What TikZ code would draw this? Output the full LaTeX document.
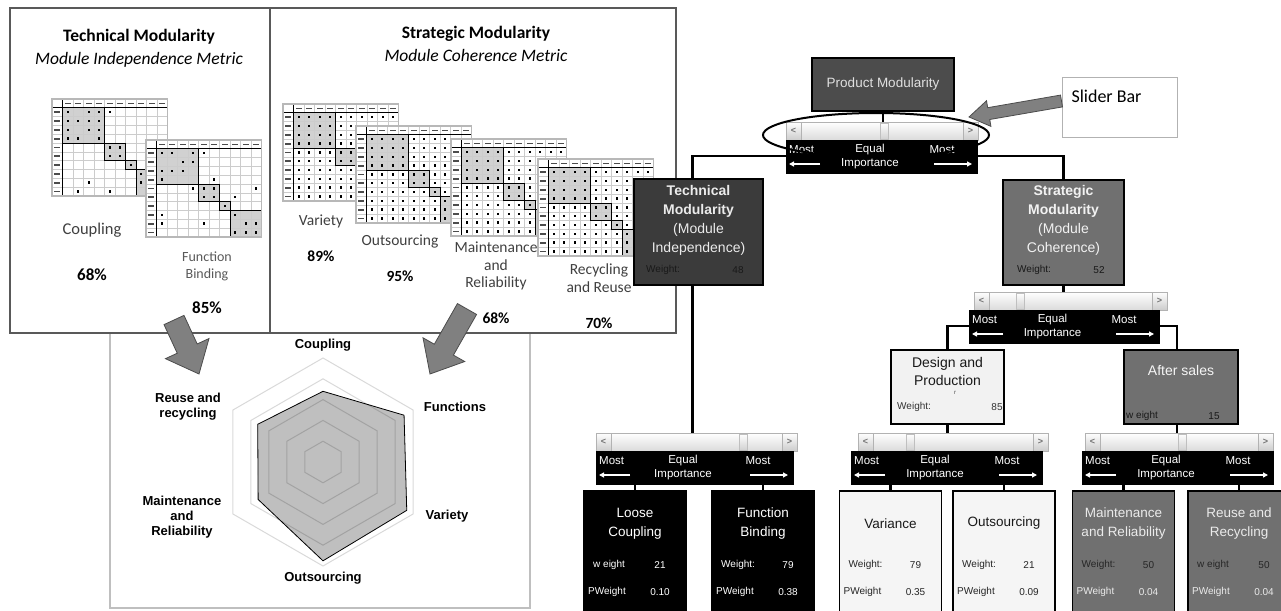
\documentclass[tikz,border=0pt]{standalone}
\usepackage{fontspec}
\setmainfont{Carlito}
\newfontfamily\arialfont{Liberation Sans}
\usetikzlibrary{arrows.meta,calc,shapes.geometric}

\tikzset{
  panel/.style={draw=black!65, line width=2pt, fill=white},
  chartpanel/.style={draw=black!25, line width=2pt, fill=white},
  paneltitle/.style={font=\fontsize{17.5}{21}\selectfont\bfseries},
  panelsub/.style={font=\fontsize{17.5}{21}\selectfont\itshape},
  metric/.style={font=\fontsize{16.5}{20}\selectfont, text=black!75, align=center},
  metricsm/.style={font=\fontsize{14}{17}\selectfont, text=black!65, align=center},
  metricr/.style={font=\fontsize{15.5}{17.5}\selectfont, text=black!75, align=center},
  pct/.style={font=\fontsize{17}{20}\selectfont\bfseries},
  pctr/.style={font=\fontsize{15.5}{18}\selectfont\bfseries},
  dsmblock/.style={fill=black!18},
  dsmgrid/.style={draw=black!20, line width=0.4pt},
  dsmline/.style={draw=black, line width=0.7pt},
  dsmframe/.style={draw=black!28, line width=1.5pt},
  fatarrow/.style={fill=black!50, draw=black!70, line width=0.8pt},
  ring/.style={draw=black, opacity=0.15, line width=1pt},
  score/.style={fill=black!25, draw=black, line width=0.8pt},
  axislabel/.style={font=\arialfont\bfseries\fontsize{13}{15}\selectfont, align=center},
  crit/.style={draw=black, line width=1.2pt, inner sep=0pt},
  crittitle/.style={font=\arialfont\fontsize{14}{19}\selectfont, align=center},
  leaftitle/.style={font=\arialfont\fontsize{13.5}{19}\selectfont, align=center},
  weight/.style={font=\arialfont\fontsize{10}{11}\selectfont, inner sep=0pt},
  link/.style={draw=black, line width=2.6pt},
  barglyph/.style={font=\arialfont\bfseries\fontsize{9}{9}\selectfont, text=black!55, inner sep=0pt},
  imptext/.style={font=\arialfont\fontsize{11.5}{13}\selectfont, text=white, inner sep=0pt},
  imparrow/.style={draw=white, line width=1.3pt, -{Triangle[length=5pt,width=5pt]}},
}

% x, y, seed, share of marks off the blocks
\newcommand{\dsm}[4]{%
\begin{scope}[shift={(#1,#2)},x=10.5pt,y=-8.8pt]
  \fill[white] (0,0) rectangle (11,11);
  \fill[dsmblock] (1,1) rectangle (5,5) (5,5) rectangle (7,7) (7,7) rectangle (8,8) (8,8) rectangle (11,11);
  \foreach \k in {2,...,10}
    \draw[dsmgrid] (\k,0) -- (\k,11) (0,\k) -- (11,\k);
  \foreach \k in {1,...,10} {
    \fill[black!70] ({\k+0.2},0.4) rectangle ({\k+0.8},0.62);
    \fill[black!70] (0.15,{\k+0.4}) rectangle (0.75,{\k+0.62});
  }
  \pgfmathsetseed{#3}
  \foreach \i in {1,...,10}
    \foreach \j in {1,...,10} {
      \pgfmathtruncatemacro\bi{(\i>4)+(\i>6)+(\i>7)}
      \pgfmathtruncatemacro\bj{(\j>4)+(\j>6)+(\j>7)}
      \pgfmathsetmacro\rv{rnd}
      \pgfmathtruncatemacro\hit{((\bi==\bj)&&(\rv<0.7))||(\rv<#4)}
      \ifnum\hit=1 \fill ({\j+0.42},{\i+0.36}) rectangle ({\j+0.58},{\i+0.64}); \fi
    }
  \draw[dsmline] (0,1) -- (11,1) (1,0) -- (1,11);
  \draw[dsmline] (1,1) rectangle (5,5) (5,5) rectangle (7,7) (7,7) rectangle (8,8) (8,8) rectangle (11,11);
  \draw[dsmframe] (0,0) rectangle (11,11);
\end{scope}}

% tail, tip, shaft half width, head half width, head length
\newcommand{\fatarrow}[5]{%
  \path[fatarrow] let \p1=(#1), \p2=(#2),
    \n1={atan2(\y2-\y1,\x2-\x1)}, \n2={veclen(\x2-\x1,\y2-\y1)} in
    [shift={(\p1)},rotate=\n1]
    (0pt,-#3) -- ({\n2*1pt-#5},-#3) -- ({\n2*1pt-#5},-#4) -- ({\n2*1pt},0pt)
    -- ({\n2*1pt-#5},#4) -- ({\n2*1pt-#5},#3) -- (0pt,#3) -- cycle;}

% name, bar left, bar right, bar top, thumb, box left, box right
\newcommand{\importance}[7]{%
  \shadedraw[top color=white,bottom color=black!14,draw=black!30] (#2,#4) rectangle (#3,{#4+18});
  \shadedraw[top color=white,bottom color=black!20,draw=black!30] (#2,#4) rectangle ({#2+15},{#4+18});
  \shadedraw[top color=white,bottom color=black!20,draw=black!30] ({#3-15},#4) rectangle (#3,{#4+18});
  \shadedraw[top color=white,bottom color=black!18,draw=black!25] ({#5-4},{#4+1}) rectangle ({#5+4},{#4+17});
  \node[barglyph] (#1-lt) at ({#2+7.5},{#4+9}) {<};
  \node[barglyph] (#1-gt) at ({#3-7.5},{#4+9}) {>};
  \fill[black] (#6,{#4+18}) rectangle (#7,{#4+52});
  \node[imptext,anchor=west] (#1-most1) at ({#6+3},{#4+28}) {Most};
  \node[imptext] (#1-equal) at ({(#6+#7)/2-12},{#4+28}) {Equal};
  \node[imptext] (#1-most2) at ({#7-36},{#4+28}) {Most};
  \node[imptext] (#1-imp) at ({(#6+#7)/2-12},{#4+42}) {Importance};
  \draw[imparrow] ({#6+34},{#4+42}) -- ({#6+3},{#4+42});
  \draw[imparrow] ({#7-44},{#4+42}) -- ({#7-6},{#4+42});
  \coordinate (#1-n) at ({(#2+#3)/2},#4);
  \coordinate (#1-w) at (#6,{#4+34});
  \coordinate (#1-e) at (#7,{#4+34});
  \coordinate (#1-s) at ({(#6+#7)/2},{#4+52});
}

\begin{document}
\begin{tikzpicture}[x=1pt,y=-1pt]
  \useasboundingbox[fill=white] (0,0) rectangle (1281,610);

  % metric panels
  \draw[chartpanel] (110,333) rectangle (530,608);
  \draw[panel] (10,8) rectangle (270,333);
  \draw[panel] (270,8) rectangle (676,333);

  \node[paneltitle] (tm-title) at (139,37) {Technical Modularity};
  \node[panelsub]   (tm-sub)   at (139,60) {Module Independence Metric};
  \node[paneltitle] (sm-title) at (476,34) {Strategic Modularity};
  \node[panelsub]   (sm-sub)   at (476,55) {Module Coherence Metric};

  \dsm{52}{99}{11}{0.06}
  \dsm{146}{140}{23}{0.1}
  \dsm{283}{104}{31}{1}
  \dsm{356}{126}{47}{1}
  \dsm{451}{139}{53}{1}
  \dsm{538}{159}{67}{1}

  \node[metric]   (cpl)   at (92,230)    {Coupling};
  \node[pct]      (cpl-v) at (92,275)    {68\%};
  \node[metricsm] (fb)    at (207,266.5) {Function\\Binding};
  \node[pct]      (fb-v)  at (207,308)   {85\%};
  \node[metricr]  (var)   at (321,221)   {Variety};
  \node[pctr]     (var-v) at (321,256)   {89\%};
  \node[metricr]  (out)   at (400,241)   {Outsourcing};
  \node[pctr]     (out-v) at (400,276)   {95\%};
  \node[metricr]  (mr)    at (496,266)   {Maintenance\\and\\Reliability};
  \node[pctr]     (mr-v)  at (496,318)   {68\%};
  \node[metricr]  (rr)    at (599,278)   {Recycling\\and Reuse};
  \node[pctr]     (rr-v)  at (599,323)   {70\%};

  % radar chart
  \begin{scope}[shift={(323,462)}]
    \filldraw[score] (-90:70.7) -- (-30:93.6) -- (30:96.7) -- (90:98.8) -- (150:74.9) -- (210:75.4) -- cycle;
    \foreach \k in {1,...,5} {
      \pgfmathsetmacro\rr{\k*20.8}
      \draw[ring] (-90:\rr) -- (-30:\rr) -- (30:\rr) -- (90:\rr) -- (150:\rr) -- (210:\rr) -- cycle;
    }
  \end{scope}
  \node[axislabel] (ax-c) at (323,345) {Coupling};
  \node[axislabel] (ax-f) at (455,407) {Functions};
  \node[axislabel] (ax-v) at (447,516) {Variety};
  \node[axislabel] (ax-o) at (323,578) {Outsourcing};
  \node[axislabel] (ax-m) at (182,517) {Maintenance\\and\\Reliability};
  \node[axislabel] (ax-r) at (188,407) {Reuse and\\recycling};

  \coordinate (tm-tail) at (174,320);
  \coordinate (tm-tip)  at (199,374);
  \coordinate (sm-tail) at (467,309);
  \coordinate (sm-tip)  at (430,374);
  \fatarrow{tm-tail}{tm-tip}{11pt}{24pt}{28pt}
  \fatarrow{sm-tail}{sm-tip}{11pt}{24pt}{28pt}

  % hierarchy
  \node[crit, fill=black!70, minimum width=142pt, minimum height=53pt, text=black!12,
        font=\arialfont\fontsize{13.5}{16}\selectfont] (prod) at (883,84.5) {Product Modularity};
  \node[crit, fill=black!77, minimum width=129pt, minimum height=106pt] (tech) at (698.5,232) {};
  \node[crittitle, text=black!8] (tech-t) at (698.5,220)
        {\textbf{Technical}\\\textbf{Modularity}\\(Module\\Independence)};
  \node[weight, anchor=west, text=black!90] (tech-wl) at (646,270) {Weight:};
  \node[weight, text=black!90] (tech-wv) at (738,270) {48};
  \node[crit, fill=black!56, minimum width=121pt, minimum height=105pt] (strat) at (1063.5,232.5) {};
  \node[crittitle, text=black!5] (strat-t) at (1063.5,220)
        {\textbf{Strategic}\\\textbf{Modularity}\\(Module\\Coherence)};
  \node[weight, anchor=west, text=black!90] (strat-wl) at (1017,270) {Weight:};
  \node[weight, text=black!90] (strat-wv) at (1099,270) {52};
  \node[crit, fill=black!5, minimum width=113pt, minimum height=74pt] (design) at (947.5,387) {};
  \node[crittitle, text=black!90, font=\arialfont\fontsize{14}{18}\selectfont] (design-t) at (947.5,371)
        {Design and\\Production};
  \node[weight, font=\arialfont\fontsize{6}{6}\selectfont, text=black!70] (design-r) at (955,393) {r};
  \node[weight, anchor=west, text=black!80] (design-wl) at (897,407) {Weight:};
  \node[weight, text=black!80] (design-wv) at (997,407) {85};
  \node[crit, fill=black!56, minimum width=114pt, minimum height=74pt] (after) at (1181,387) {};
  \node[crittitle, text=black!4] (after-t) at (1181,370) {After sales};
  \node[weight, anchor=west, text=black!90] (after-wl) at (1126,416) {w eight};
  \node[weight, text=black!90] (after-wv) at (1214,416) {15};

  \importance{top}{786}{978}{122}{884}{786}{978}
  \importance{st}{974}{1167}{292}{1020}{969}{1160}
  \importance{tl}{596}{797}{433}{743}{596}{794}
  \importance{dp}{858}{1048}{433}{910}{851}{1043}
  \importance{as}{1085}{1273}{433}{1182}{1082}{1274}

  \foreach \n/\x/\fc/\tc/\ca/\cb/\t/\wl/\w/\p in {
      loose/635/black/white/white/white/{Loose\\Coupling}/{w eight}/21/0.10,
      fbind/763/black/white/white/white/{Function\\Binding}/{Weight:}/79/0.38,
      variance/890.5/black!4/black!90/black!85/black!85/{Variance}/{Weight:}/79/0.35,
      outsrc/1004/black!4/black!90/black!85/black!85/{Outsourcing}/{Weight:}/21/0.09,
      maint/1123.5/black!56/black!8/black!85/black!8/{Maintenance\\and Reliability}/{Weight:}/50/0.04,
      reuse/1239/black!56/black!8/black!85/black!8/{Reuse and\\Recycling}/{w eight}/50/0.04} {
    \node[crit, fill=\fc, minimum width=102pt, minimum height=123pt] (\n) at (\x,552.5) {};
    \node[leaftitle, text=\tc] (\n-t) at (\x,523.5) {\t};
    \node[weight, anchor=west, text=\ca] (\n-wl) at ({\x-42},565) {\wl};
    \node[weight, text=\ca] (\n-wv) at ({\x+25},565) {\w};
    \node[weight, anchor=west, text=\cb] (\n-pl) at ({\x-47},592) {PWeight};
    \node[weight, text=\cb] (\n-pv) at ({\x+25},592) {\p};
  }

  \draw[link] (prod.south) -- (prod.south |- top-n);
  \draw[link] (top-w) -| ([xshift=-6pt]tech.north);
  \draw[link] (top-e) -| (strat.north);
  \draw[link] ([xshift=-6pt]tech.south) -- ([xshift=-6pt]tech.south |- tl-n);
  \draw[link] (strat.south) -- (strat.south |- st-n);
  \draw[link] (st-w) -| (design.north);
  \draw[link] (st-e) -| ([xshift=-4pt]after.north);
  \draw[link] (design.south) -- (design.south |- dp-n);
  \draw[link] ([xshift=-4pt]after.south) -- ([xshift=-4pt]after.south |- as-n);
  \foreach \n/\s in {loose/tl, fbind/tl, variance/dp, outsrc/dp, maint/as, reuse/as}
    \draw[link] (\n.north) -- (\n.north |- \s-s);

  % slider bar callout
  \node[draw, ellipse, line width=2pt, minimum width=226pt, minimum height=44pt, inner sep=0pt] (barring) at (876,135) {};
  \node[draw=black!30, line width=1pt, fill=white, minimum width=115pt, minimum height=60pt, inner sep=0pt] (callout) at (1119.5,107) {};
  \node[anchor=west, font=\fontsize{18}{20}\selectfont] (callout-t) at (1068,96) {Slider Bar};
  \coordinate (bartip) at (969,117);
  \fatarrow{[yshift=6pt]callout.west}{bartip}{6pt}{13pt}{20pt}
\end{tikzpicture}
\end{document}
